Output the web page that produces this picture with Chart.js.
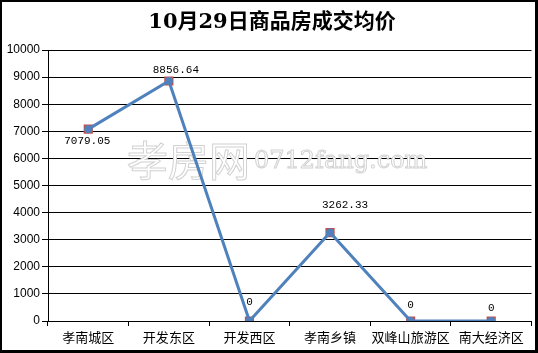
<!DOCTYPE html>
<html>
<head>
<meta charset="utf-8">
<script src="https://cdn.jsdelivr.net/npm/chart.js@4/dist/chart.umd.min.js"></script>
<style>
  body { margin: 0; background: #fff; }
  #wrap { position: relative; width: 538px; height: 353px; }
  #frame { position: absolute; left: 0; top: 0; width: 538px; height: 353px; box-sizing: border-box;
           border: 2px solid #000; border-right-width: 3px; border-bottom-width: 3px; pointer-events: none; }
</style>
</head>
<body>
<div id="wrap">
  <canvas id="chart" width="538" height="353"></canvas>
  <div id="frame"></div>
</div>
<script>
// chart data
var titleText = '10月29日商品房成交均价';
var districts = ['孝南城区', '开发东区', '开发西区', '孝南乡镇', '双峰山旅游区', '南大经济区'];
var avgPrice = [7079.05, 8856.64, 0, 3262.33, 0, 0];
var priceLabels = ['7079.05', '8856.64', '0', '3262.33', '0', '0'];
var yTicks = [0, 1000, 2000, 3000, 4000, 5000, 6000, 7000, 8000, 9000, 10000];

// label nudges, as in the picture
var labelShift = [[-1, 12], [7, -11], [0, -19], [15, -27], [0, -16], [0, -13]];

var cjk = '"Noto Sans CJK SC", sans-serif';

// title + watermark + value labels
var decor = {
  id: 'decor',
  beforeDatasetsDraw: function(chart) {
    var c = chart.ctx;
    c.save();
    c.lineWidth = 1;
    c.strokeStyle = '#d2d2d2';
    c.fillStyle = '#fff';
    c.textBaseline = 'middle';
    c.textAlign = 'left';
    c.font = '41px ' + cjk;
    c.fillText('孝房网', 127, 160);
    c.strokeText('孝房网', 127, 160);
    c.font = '24px "DejaVu Serif", serif';
    c.fillText('0712fang.com', 254, 162);
    c.strokeText('0712fang.com', 254, 162);
    c.restore();
  },
  afterDraw: function(chart) {
    var c = chart.ctx;
    c.save();
    c.fillStyle = '#000';
    c.textAlign = 'center';
    c.textBaseline = 'middle';
    c.font = 'bold 21px "DejaVu Serif", ' + cjk;
    c.fillText(titleText, 272, 23);
    c.font = '11px "Liberation Mono", monospace';
    var pts = chart.getDatasetMeta(0).data;
    for (var i = 0; i < pts.length; i++) {
      c.fillText(priceLabels[i], pts[i].x + labelShift[i][0], pts[i].y + labelShift[i][1]);
    }
    c.restore();
  }
};

var ctx = document.getElementById('chart');
var myChart = new Chart(ctx, {
  type: 'line',
  data: {
    labels: districts,
    datasets: [{
      label: '成交均价',
      data: avgPrice,
      borderColor: '#4F81BD',
      borderWidth: 3,
      pointStyle: 'circle',
      pointRadius: 4,
      pointBackgroundColor: '#4F81BD',
      pointBorderWidth: 0,
      tension: 0,
      order: 1
    }, {
      label: '标记',
      data: avgPrice,
      showLine: false,
      pointStyle: 'rect',
      pointRadius: 6.5,
      pointBackgroundColor: '#C0504D',
      pointBorderColor: '#C0504D',
      pointBorderWidth: 0,
      order: 2
    }]
  },
  options: {
    responsive: false,
    animation: false,
    layout: { padding: { top: 50, right: 4, left: 0, bottom: 0 } },
    plugins: {
      legend: { display: false },
      title: { display: false },
      tooltip: { enabled: false }
    },
    scales: {
      x: {
        offset: true,
        grid: { offset: true, drawOnChartArea: false, drawTicks: true, tickLength: 5, color: '#000' },
        border: { display: true, color: '#000', width: 1 },
        ticks: { color: '#000', font: { family: cjk, size: 13 }, padding: 3, maxRotation: 0, autoSkip: false },
        afterFit: function(s) { s.height = 32; }
      },
      y: {
        min: 0,
        max: 10000,
        afterBuildTicks: function(s) { s.ticks = yTicks.map(function(v) { return { value: v }; }); },
        grid: { color: '#000', lineWidth: 1, tickLength: 6 },
        border: { display: true, color: '#000', width: 1 },
        ticks: {
          color: '#000', padding: 2,
          font: { family: '"Liberation Sans", sans-serif', size: 12 },
          callback: function(v) { return String(v); }
        },
        afterFit: function(s) { s.width = 48; }
      }
    }
  },
  plugins: [decor]
});
</script>
</body>
</html>
